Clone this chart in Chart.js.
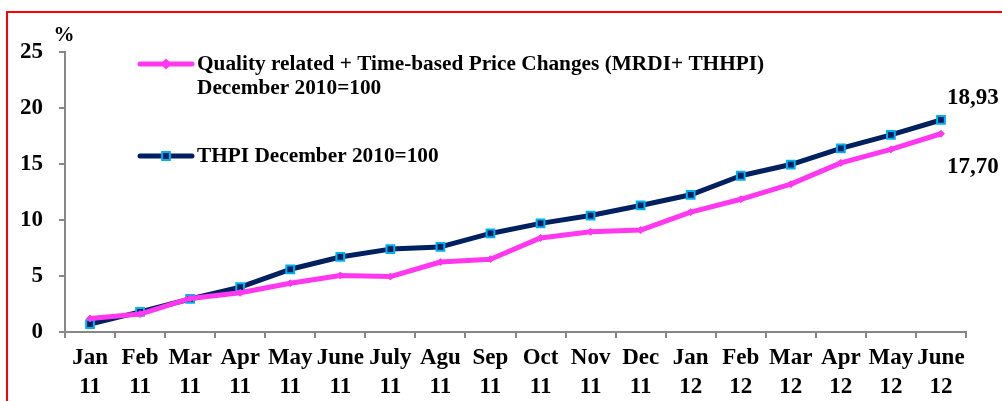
<!DOCTYPE html>
<html>
<head>
<meta charset="utf-8">
<script src="https://cdn.jsdelivr.net/npm/chart.js@4.4.1/dist/chart.umd.min.js"></script>
<style>
  body { margin: 0; background: #fff; }
  #wrap { position: relative; width: 1002px; height: 401px; overflow: hidden; }
  #frame { position: absolute; left: 6px; top: 11px; width: 1100px; height: 500px; border-left: 2px solid #ff0000; border-top: 2px solid #ff0000; }
  canvas { position: absolute; left: 0; top: 0; }
</style>
</head>
<body>
<div id="wrap">
  <div id="frame"></div>
  <canvas id="chart" width="1002" height="401"></canvas>
</div>
<script>
// Data
const months = [
    ['Jan', '11'], ['Feb', '11'], ['Mar', '11'], ['Apr', '11'], ['May', '11'], ['June', '11'],
    ['July', '11'], ['Agu', '11'], ['Sep', '11'], ['Oct', '11'], ['Nov', '11'], ['Dec', '11'],
    ['Jan', '12'], ['Feb', '12'], ['Mar', '12'], ['Apr', '12'], ['May', '12'], ['June', '12']
];
const qualityValues = [1.2, 1.6, 3.0, 3.5, 4.35, 5.05, 4.95, 6.25, 6.5, 8.4, 8.95, 9.1, 10.7, 11.85, 13.2, 15.1, 16.3, 17.70];
const thpiValues = [0.7, 1.8, 2.95, 4.0, 5.6, 6.7, 7.4, 7.6, 8.8, 9.7, 10.4, 11.3, 12.25, 13.95, 14.95, 16.4, 17.6, 18.93];
const qualityLabel = ['Quality related + Time-based Price Changes (MRDI+ THHPI)', 'December 2010=100'];
const thpiLabel = ['THPI December 2010=100'];

const PINK = '#ff38f0';
const NAVY = '#002060';
const CYAN = '#00b0f0';
const AXIS = '#878787';
const SERIF = '"Liberation Serif", "Times New Roman", serif';

function fmt(v) {
    return v.toFixed(2).replace('.', ',');
}

// Legend, unit and end labels drawn on top
const extrasPlugin = {
    id: 'extras',
    afterDraw(chart) {
        const ctx = chart.ctx;
        const xs = chart.scales.x;
        const ys = chart.scales.y;
        ctx.save();
        ctx.fillStyle = '#000';
        ctx.textBaseline = 'middle';

        // unit
        ctx.font = 'bold 21px ' + SERIF;
        ctx.textAlign = 'center';
        ctx.fillText('%', 64, 36);

        // legend
        const items = [
            { color: PINK, y: 64, lines: qualityLabel, style: 'rectRot', r: 4, fill: PINK, stroke: PINK },
            { color: NAVY, y: 156, lines: thpiLabel, style: 'rect', r: 5.5, fill: NAVY, stroke: CYAN }
        ];
        items.forEach(item => {
            ctx.strokeStyle = item.color;
            ctx.lineWidth = 5;
            ctx.lineCap = 'round';
            ctx.beginPath();
            ctx.moveTo(140, item.y);
            ctx.lineTo(192, item.y);
            ctx.stroke();
            ctx.fillStyle = item.fill;
            ctx.strokeStyle = item.stroke;
            ctx.lineWidth = 2;
            Chart.helpers.drawPoint(ctx, { pointStyle: item.style, radius: item.r, borderWidth: 2 }, 166, item.y);
            ctx.fillStyle = '#000';
            ctx.font = 'bold 21.3px ' + SERIF;
            ctx.textAlign = 'left';
            item.lines.forEach((line, i) => ctx.fillText(line, 197, item.y + i * 24));
        });

        // end value labels
        const last = months.length - 1;
        const lx = xs.getPixelForValue(last) + 32;
        ctx.font = 'bold 23px ' + SERIF;
        ctx.textAlign = 'center';
        ctx.fillText(fmt(thpiValues[last]), lx, ys.getPixelForValue(thpiValues[last]) - 22);
        ctx.fillText(fmt(qualityValues[last]), lx, ys.getPixelForValue(qualityValues[last]) + 33);
        ctx.restore();
    }
};

new Chart(document.getElementById('chart').getContext('2d'), {
    type: 'line',
    data: {
        labels: months,
        datasets: [
            {
                label: qualityLabel.join(' '),
                data: qualityValues,
                borderColor: PINK,
                backgroundColor: PINK,
                borderWidth: 5,
                tension: 0,
                borderJoinStyle: 'round',
                pointStyle: 'rectRot',
                pointRadius: 3.5,
                pointBorderWidth: 1,
                pointBackgroundColor: PINK,
                pointBorderColor: PINK
            },
            {
                label: thpiLabel[0],
                data: thpiValues,
                borderColor: NAVY,
                backgroundColor: NAVY,
                borderWidth: 5,
                tension: 0,
                borderJoinStyle: 'round',
                pointStyle: 'rect',
                pointRadius: 5.5,
                pointBorderWidth: 2,
                pointBackgroundColor: NAVY,
                pointBorderColor: CYAN
            }
        ]
    },
    options: {
        responsive: false,
        animation: false,
        layout: { padding: { left: 0, top: 52, right: 36, bottom: 0 } },
        plugins: {
            legend: { display: false },
            tooltip: { enabled: false }
        },
        scales: {
            x: {
                offset: true,
                grid: { display: true, drawOnChartArea: false, offset: true, color: AXIS, lineWidth: 2, tickLength: 6 },
                border: { display: true, color: AXIS, width: 2 },
                ticks: {
                    color: '#000',
                    padding: 6,
                    maxRotation: 0,
                    autoSkip: false,
                    font: { family: SERIF, size: 23, weight: 'bold', lineHeight: 1.25 }
                },
                afterFit(scale) { scale.height = 69; }
            },
            y: {
                min: 0,
                max: 25,
                ticks: {
                    stepSize: 5,
                    color: '#000',
                    padding: 16,
                    font: { family: SERIF, size: 23, weight: 'bold' }
                },
                grid: { display: true, drawOnChartArea: false, color: AXIS, lineWidth: 2, tickLength: 6 },
                border: { display: true, color: AXIS, width: 2 },
                afterFit(scale) { scale.width = 65; }
            }
        }
    },
    plugins: [extrasPlugin]
});
</script>
</body>
</html>
